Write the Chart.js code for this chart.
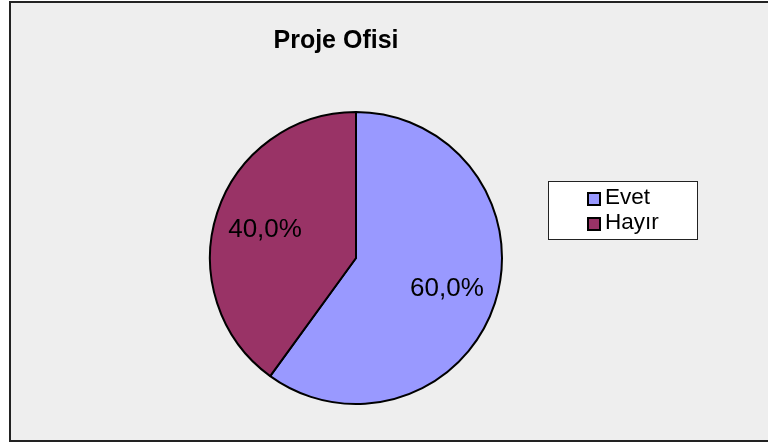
<!DOCTYPE html>
<html>
<head>
<meta charset="utf-8">
<script src="https://cdn.jsdelivr.net/npm/chart.js@4/dist/chart.umd.min.js"></script>
<style>
  html, body { margin: 0; padding: 0; background: #fff; }
  #wrap { width: 768px; height: 446px; }
</style>
</head>
<body>
<div id="wrap"><canvas id="pie" width="768" height="446"></canvas></div>
<script>
const chartTitle = 'Proje Ofisi';
const categories = ['Evet', 'Hayır'];
const values = [60, 40];
const sliceColors = ['#9999FF', '#993366'];

function pctLabel(v, total) {
    return (v / total * 100).toFixed(1).replace('.', ',') + '%';
}

const framePlugin = {
    id: 'frame',
    beforeDraw(chart) {
        const ctx = chart.ctx;
        ctx.save();
        ctx.fillStyle = '#fff';
        ctx.fillRect(0, 0, chart.width, chart.height);
        ctx.fillStyle = '#EEEEEE';
        ctx.fillRect(10, 2, chart.width, 439);
        ctx.strokeStyle = '#222';
        ctx.lineWidth = 2;
        ctx.strokeRect(10, 2, chart.width + 10, 439);
        ctx.restore();
    },
    afterDatasetsDraw(chart) {
        const ctx = chart.ctx;
        const meta = chart.getDatasetMeta(0);
        const data = chart.data.datasets[0].data;
        const total = data.reduce((a, b) => a + b, 0);
        ctx.save();
        ctx.font = '26px "Liberation Sans", Arial, sans-serif';
        ctx.fillStyle = '#000';
        ctx.textAlign = 'center';
        ctx.textBaseline = 'middle';
        meta.data.forEach((arc, i) => {
            const p = arc.getProps(['x', 'y', 'startAngle', 'endAngle', 'outerRadius'], true);
            const mid = (p.startAngle + p.endAngle) / 2;
            const r = p.outerRadius * 0.655;
            ctx.fillText(pctLabel(data[i], total), p.x + Math.cos(mid) * r, p.y + Math.sin(mid) * r + 1);
        });
        ctx.restore();
    },
    afterDraw(chart) {
        const ctx = chart.ctx;
        ctx.save();
        // title
        ctx.font = 'bold 25px "Liberation Sans", Arial, sans-serif';
        ctx.fillStyle = '#000';
        ctx.textAlign = 'center';
        ctx.textBaseline = 'alphabetic';
        ctx.fillText(chartTitle, 336, 48);
        // legend
        ctx.fillStyle = '#fff';
        ctx.fillRect(548, 181, 149, 58);
        ctx.strokeStyle = '#222';
        ctx.lineWidth = 1;
        ctx.strokeRect(548.5, 181.5, 149, 58);
        ctx.font = '22.5px "Liberation Sans", Arial, sans-serif';
        ctx.textAlign = 'left';
        chart.data.labels.forEach((lab, i) => {
            const y = 193 + i * 25;
            ctx.fillStyle = sliceColors[i];
            ctx.fillRect(588, y, 12, 12);
            ctx.strokeStyle = '#000';
            ctx.lineWidth = 2;
            ctx.strokeRect(588, y, 12, 12);
            ctx.fillStyle = '#000';
            ctx.fillText(lab, 605, y + 11);
        });
        ctx.restore();
    }
};

new Chart(document.getElementById('pie').getContext('2d'), {
    type: 'pie',
    data: {
        labels: categories,
        datasets: [{
            data: values,
            backgroundColor: sliceColors,
            borderColor: '#000',
            borderWidth: 2,
        }]
    },
    options: {
        responsive: false,
        animation: false,
        layout: { padding: { left: 209, right: 265, top: 111, bottom: 41 } },
        plugins: {
            legend: { display: false },
            title: { display: false },
            tooltip: { enabled: false }
        }
    },
    plugins: [framePlugin]
});
</script>
</body>
</html>
